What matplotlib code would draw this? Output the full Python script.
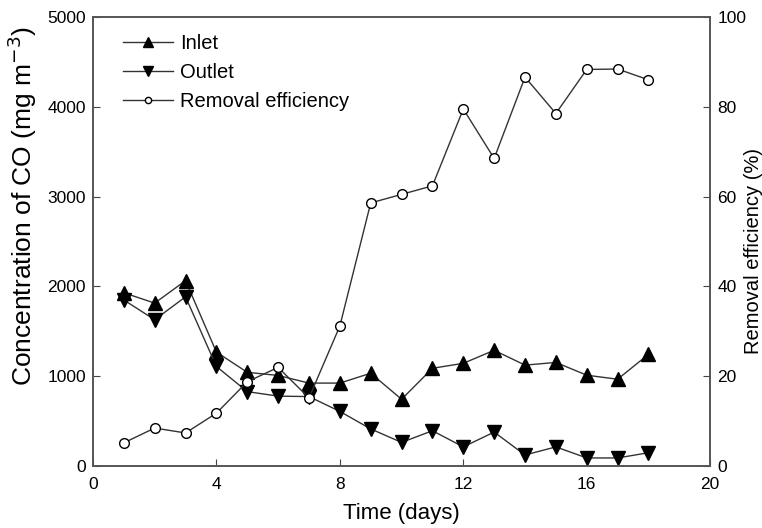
import matplotlib
matplotlib.use("Agg")
import matplotlib.pyplot as plt
from matplotlib.lines import Line2D

plt.rcParams['font.family'] = ['Liberation Sans', 'DejaVu Sans']

days = list(range(1, 19))
inlet = [1930, 1815, 2065, 1270, 1045, 1010, 925, 925, 1035, 745, 1090, 1145, 1290, 1125, 1155, 1013, 968, 1245]
outlet = [1850, 1630, 1885, 1110, 830, 780, 775, 610, 415, 265, 395, 215, 380, 125, 215, 92, 92, 150]
removal = [5.2, 8.5, 7.4, 11.8, 18.8, 22.0, 15.2, 31.2, 58.6, 60.5, 62.4, 79.5, 68.5, 86.6, 78.5, 88.3, 88.4, 86.0]

line_col = "#333333"

fig = plt.figure(figsize=(7.62, 5.28), dpi=100)
ax = fig.add_axes([0.122, 0.117, 0.810, 0.851])
ax2 = ax.twinx()

ax.plot(days, inlet, color=line_col, lw=1, marker="^", ms=10, mfc="black", mec="black")
ax.plot(days, outlet, color=line_col, lw=1, marker="v", ms=10, mfc="black", mec="black")
ax2.plot(days, removal, color=line_col, lw=1, marker="o", ms=7, mfc="white", mec="black")

ax.set_xlim(0, 20)
ax.set_ylim(0, 5000)
ax2.set_ylim(0, 100)
ax.set_xticks([0, 4, 8, 12, 16, 20])
ax.set_yticks([0, 1000, 2000, 3000, 4000, 5000])
ax2.set_yticks([0, 20, 40, 60, 80, 100])

for a in (ax, ax2):
    a.tick_params(direction="in", labelsize=12.5, length=5, color="#444444", pad=5)
    for s in a.spines.values():
        s.set_color("#555555")
        s.set_linewidth(1.2)
ax.tick_params(axis="x", pad=8)

ax.set_xlabel("Time (days)", fontsize=16, labelpad=8)
ax.set_ylabel("Concentration of CO (mg m$^{-3}$)", fontsize=19)
ax.yaxis.set_label_coords(-0.087, 0.58)
ax2.set_ylabel("Removal efficiency (%)", fontsize=14.5)
ax2.yaxis.set_label_coords(1.054, 0.48)

# legend proxies with the smaller legend markers
handles = [
    Line2D([], [], color=line_col, lw=1, marker="^", ms=7, mfc="black", mec="black"),
    Line2D([], [], color=line_col, lw=1, marker="v", ms=7, mfc="black", mec="black"),
    Line2D([], [], color=line_col, lw=1, marker="o", ms=4.5, mfc="white", mec="black"),
]
ax.legend(handles, ["Inlet", "Outlet", "Removal efficiency"], loc="upper left",
          frameon=False, fontsize=14.5, handlelength=2.5, handletextpad=0.35,
          labelspacing=0.5, bbox_to_anchor=(0.035, 0.98), borderaxespad=0)

fig.savefig("out.png", dpi=100)
